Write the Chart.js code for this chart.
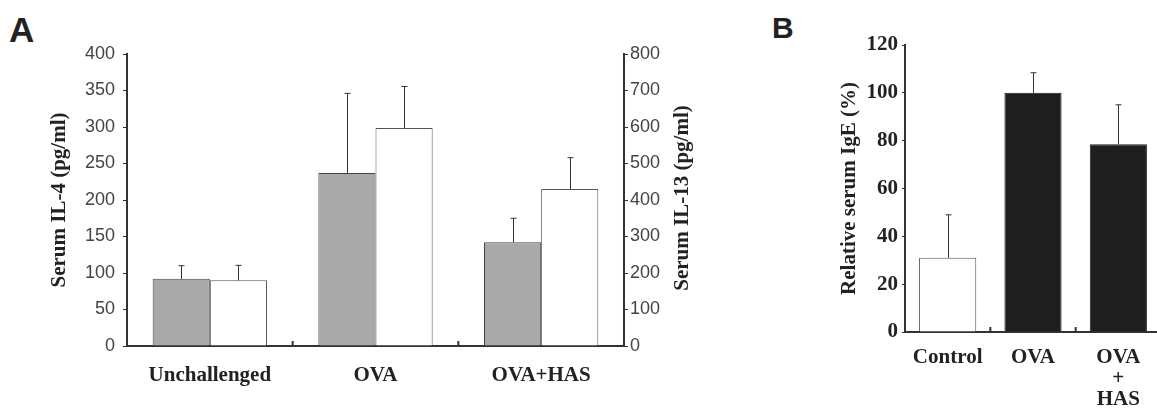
<!DOCTYPE html>
<html>
<head>
<meta charset="utf-8">
<script src="https://cdn.jsdelivr.net/npm/chart.js@4/dist/chart.umd.min.js"></script>
<style>
  html, body { margin: 0; padding: 0; background: #fff; overflow: hidden; }
  body { width: 1157px; height: 413px; position: relative; }
  .panel { position: absolute; font-family: "Liberation Sans", Arial, sans-serif; font-weight: bold; color: #222; line-height: 1; }
  #wrapA { position: absolute; left: 0; top: 0; width: 720px; height: 413px; }
  #wrapB { position: absolute; left: 780px; top: 0; width: 400px; height: 413px; }
</style>
</head>
<body>
<div class="panel" style="left:9px;top:12px;font-size:35px;">A</div>
<div class="panel" style="left:772px;top:13px;font-size:30px;">B</div>
<div id="wrapA"><canvas id="chartA" width="720" height="413"></canvas></div>
<div id="wrapB"><canvas id="chartB" width="400" height="413"></canvas></div>
<script>
  // Panel A data
  var groupsA = ["Unchallenged", "OVA", "OVA+HAS"];
  var il4 = [92, 237, 142];
  var il4Err = [18, 109, 33];
  var il13 = [180, 597, 430];
  var il13Err = [41, 114, 86];
  var il4Ticks = [0, 50, 100, 150, 200, 250, 300, 350, 400];
  var il13Ticks = [0, 100, 200, 300, 400, 500, 600, 700, 800];

  // Panel B data
  var groupsB = ["Control", "OVA", ["OVA", "+", "HAS"]];
  var ige = [31, 100, 78.5];
  var igeErr = [18, 8.4, 16.5];
  var igeTicks = [0, 20, 40, 60, 80, 100, 120];

  var serif = "'Liberation Serif', 'Times New Roman', serif";
  var sans = "'Liberation Sans', Arial, sans-serif";

  // error bars (upper only) + small upward ticks between categories
  var extrasPlugin = {
    id: "extras",
    afterDatasetsDraw: function (chart) {
      var ctx = chart.ctx;
      ctx.save();
      ctx.strokeStyle = "#333";
      ctx.lineWidth = 1;
      chart.data.datasets.forEach(function (ds, i) {
        if (!ds.errors) return;
        var meta = chart.getDatasetMeta(i);
        var yScale = chart.scales[meta.yAxisID];
        meta.data.forEach(function (bar, j) {
          var x = Math.round(bar.x) + 0.5;
          var yTop = yScale.getPixelForValue(ds.data[j] + ds.errors[j]);
          var yBar = yScale.getPixelForValue(ds.data[j]);
          ctx.beginPath();
          ctx.moveTo(x, yBar);
          ctx.lineTo(x, yTop);
          ctx.moveTo(x - 3, yTop);
          ctx.lineTo(x + 3, yTop);
          ctx.stroke();
        });
      });
      var xs = chart.scales.x;
      var n = chart.data.labels.length;
      ctx.lineWidth = 2;
      for (var k = 1; k < n; k++) {
        var bx = (xs.getPixelForValue(k - 1) + xs.getPixelForValue(k)) / 2;
        ctx.beginPath();
        ctx.moveTo(bx, xs.top);
        ctx.lineTo(bx, xs.top - 5);
        ctx.stroke();
      }
      ctx.restore();
    },
    afterDraw: function (chart, args, opts) {
      if (!opts.rightTitle) return;
      var ctx = chart.ctx;
      ctx.save();
      ctx.translate(opts.rightTitle.x, opts.rightTitle.y);
      ctx.rotate(-Math.PI / 2);
      ctx.font = "bold 21px " + serif;
      ctx.fillStyle = "#222";
      ctx.textAlign = "center";
      ctx.textBaseline = "middle";
      ctx.fillText(opts.rightTitle.text, 0, 0);
      ctx.restore();
    },
  };

  var chartA = new Chart(document.getElementById("chartA"), {
    type: "bar",
    data: {
      labels: groupsA,
      datasets: [
        {
          label: "IL-4",
          data: il4,
          errors: il4Err,
          yAxisID: "y",
          backgroundColor: "#a9a9a9",
          borderColor: "#444",
          borderWidth: 1,
        },
        {
          label: "IL-13",
          data: il13,
          errors: il13Err,
          yAxisID: "y1",
          backgroundColor: "#ffffff",
          borderColor: "#555",
          borderWidth: 1,
        },
      ],
    },
    options: {
      responsive: false,
      animation: false,
      categoryPercentage: 0.69,
      barPercentage: 1,
      layout: { padding: { top: 54, left: 0, right: 0, bottom: 0 } },
      plugins: {
        legend: { display: false },
        tooltip: { enabled: false },
        extras: { rightTitle: { text: "Serum IL-13 (pg/ml)", x: 683, y: 198 } },
      },
      scales: {
        x: {
          grid: { display: false, drawTicks: false },
          border: { display: true, color: "#333", width: 2 },
          ticks: { padding: 17, color: "#222", font: { family: serif, size: 21, weight: "bold" } },
          afterFit: function (s) { s.height = 67; },
        },
        y: {
          position: "left",
          min: 0,
          max: 400,
          afterBuildTicks: function (s) { s.ticks = il4Ticks.map(function (v) { return { value: v }; }); },
          grid: { drawOnChartArea: false, tickLength: 4, color: "#333" },
          border: { color: "#333", width: 2 },
          ticks: { padding: 8, color: "#444", font: { family: sans, size: 18 } },
          title: {
            display: true,
            text: "Serum IL-4 (pg/ml)",
            color: "#222",
            padding: { top: 47, bottom: 0 },
            font: { family: serif, size: 21, weight: "bold" },
          },
          afterFit: function (s) { s.width = 127; },
        },
        y1: {
          position: "right",
          min: 0,
          max: 800,
          afterBuildTicks: function (s) { s.ticks = il13Ticks.map(function (v) { return { value: v }; }); },
          grid: { drawOnChartArea: false, tickLength: 4, color: "#333" },
          border: { color: "#333", width: 2 },
          ticks: { padding: 2, color: "#444", font: { family: sans, size: 18 } },
          afterFit: function (s) { s.width = 96; },
        },
      },
    },
    plugins: [extrasPlugin],
  });

  var chartB = new Chart(document.getElementById("chartB"), {
    type: "bar",
    data: {
      labels: groupsB,
      datasets: [
        {
          label: "IgE",
          data: ige,
          errors: igeErr,
          backgroundColor: ["#ffffff", "#1e1e1e", "#1e1e1e"],
          borderColor: ["#555", "#1e1e1e", "#1e1e1e"],
          borderWidth: 1,
        },
      ],
    },
    options: {
      responsive: false,
      animation: false,
      categoryPercentage: 1,
      barPercentage: 0.67,
      layout: { padding: { top: 45, left: 0, right: 19, bottom: 0 } },
      plugins: {
        legend: { display: false },
        tooltip: { enabled: false },
      },
      scales: {
        x: {
          grid: { display: false, drawTicks: false },
          border: { display: true, color: "#333", width: 2 },
          ticks: {
            padding: 15,
            color: "#222",
            maxRotation: 0,
            font: { family: serif, size: 21, weight: "bold", lineHeight: 1.0 },
          },
          afterFit: function (s) { s.height = 81; },
        },
        y: {
          min: 0,
          max: 120,
          afterBuildTicks: function (s) { s.ticks = igeTicks.map(function (v) { return { value: v }; }); },
          grid: { drawOnChartArea: false, tickLength: 3, color: "#333" },
          border: { color: "#333", width: 2 },
          ticks: { padding: 4, color: "#222", font: { family: serif, size: 21, weight: "bold" } },
          title: {
            display: true,
            text: "Relative serum IgE (%)",
            color: "#222",
            padding: { top: 57, bottom: 0 },
            font: { family: serif, size: 21, weight: "bold" },
          },
          afterFit: function (s) { s.width = 125; },
        },
      },
    },
    plugins: [extrasPlugin],
  });
</script>
</body>
</html>
